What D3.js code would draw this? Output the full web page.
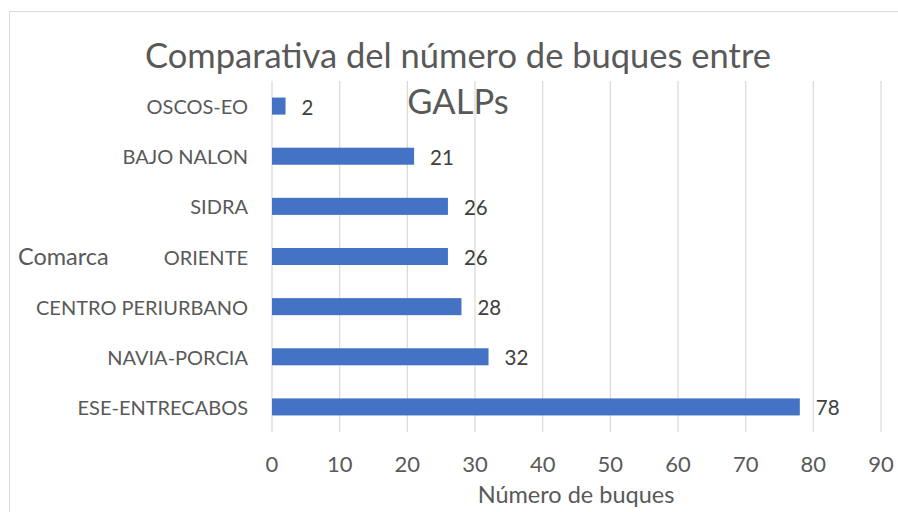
<!DOCTYPE html>
<html>
<head>
<meta charset="utf-8">
<script src="https://d3js.org/d3.v7.min.js"></script>
<style>
  body { margin: 0; background: #fff; }
  text { font-family: Lato, "Open Sans", sans-serif; }
</style>
</head>
<body>
<script>
// categories top to bottom
var comarcas = ["OSCOS-EO", "BAJO NALON", "SIDRA", "ORIENTE", "CENTRO PERIURBANO", "NAVIA-PORCIA", "ESE-ENTRECABOS"];
var buques = [2, 21, 26, 26, 28, 32, 78];
var ticks = [0, 10, 20, 30, 40, 50, 60, 70, 80, 90];

const W = 898, H = 512;
const plotLeft = 272, plotRight = 881, plotTop = 81, plotBottom = 432;

const svg = d3.select("body").append("svg")
  .attr("width", W).attr("height", H);

// chart border
svg.append("rect")
  .attr("x", 9.5).attr("y", 11.5)
  .attr("width", W + 20).attr("height", H + 20)
  .attr("fill", "none").attr("stroke", "#d9d9d9");

var x = d3.scaleLinear().domain([0, 90]).range([plotLeft, plotRight]);
var y = d3.scaleBand().domain(comarcas).range([plotTop, plotBottom]).paddingInner(0.66).paddingOuter(0.33);

// gridlines
svg.append("g").selectAll("line")
  .data(ticks)
  .enter().append("line")
  .attr("x1", d => x(d)).attr("x2", d => x(d))
  .attr("y1", plotTop).attr("y2", plotBottom)
  .attr("stroke", "#d9d9d9").attr("stroke-width", 1.2);

// bars
svg.append("g").selectAll("rect")
  .data(buques)
  .enter().append("rect")
  .attr("x", x(0))
  .attr("y", (d, i) => y(comarcas[i]))
  .attr("width", d => x(d) - x(0))
  .attr("height", y.bandwidth())
  .attr("fill", "#4472c4");

// value labels
svg.append("g").selectAll("text")
  .data(buques)
  .enter().append("text")
  .attr("x", d => x(d) + 16)
  .attr("y", (d, i) => y(comarcas[i]) + y.bandwidth() / 2 + 8.5)
  .attr("font-size", 20.5)
  .attr("fill", "#404040")
  .text(d => d);

// category labels
svg.append("g").selectAll("text")
  .data(comarcas)
  .enter().append("text")
  .attr("x", 248)
  .attr("y", d => y(d) + y.bandwidth() / 2 + 8)
  .attr("text-anchor", "end")
  .attr("font-size", 20)
  .attr("fill", "#595959")
  .text(d => d);

// x tick labels
svg.append("g").selectAll("text")
  .data(ticks)
  .enter().append("text")
  .attr("x", d => x(d))
  .attr("y", 472)
  .attr("text-anchor", "middle")
  .attr("font-size", 22)
  .attr("fill", "#595959")
  .text(d => d);

// axis titles
svg.append("text")
  .attr("x", 576).attr("y", 503)
  .attr("text-anchor", "middle")
  .attr("font-size", 23.5)
  .attr("fill", "#595959")
  .text("Número de buques");

svg.append("text")
  .attr("x", 18).attr("y", 265)
  .attr("font-size", 23.5)
  .attr("fill", "#595959")
  .text("Comarca");

// title
var title = svg.append("text")
  .attr("text-anchor", "middle")
  .attr("font-size", 34.5)
  .attr("fill", "#595959");
title.append("tspan").attr("x", 458).attr("y", 68).text("Comparativa del número de buques entre");
title.append("tspan").attr("x", 458).attr("y", 114).text("GALPs");
</script>
</body>
</html>
